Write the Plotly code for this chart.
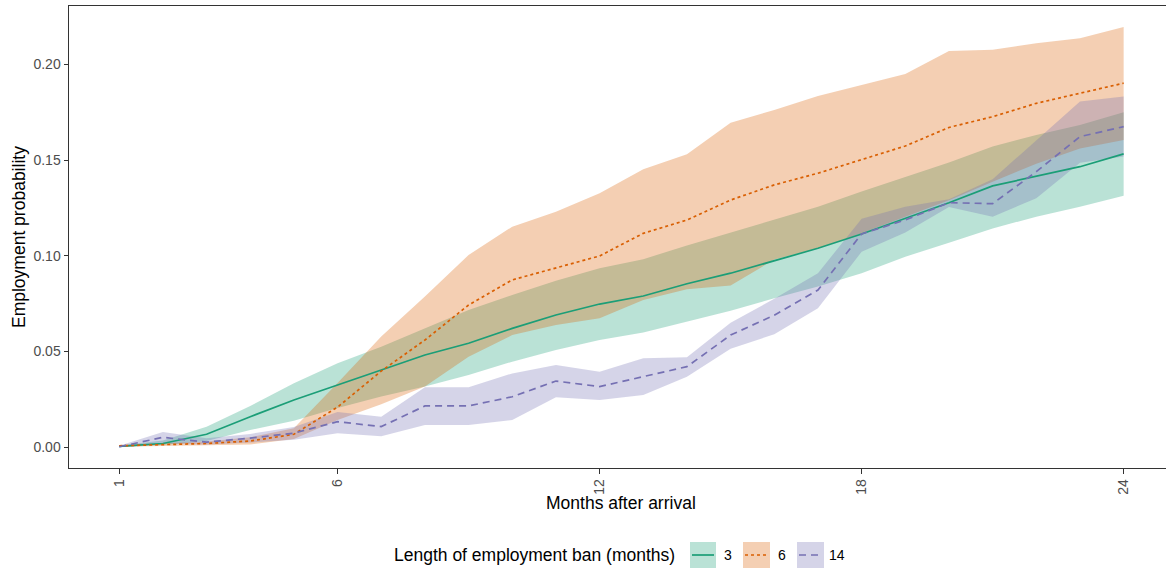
import plotly.graph_objects as go

months = list(range(1, 25))

ban3_mean = [0.0005, 0.0020, 0.0068, 0.0160, 0.0247, 0.0325, 0.0402, 0.0482, 0.0543, 0.0621, 0.0691, 0.0748,
             0.0790, 0.0854, 0.0909, 0.0973, 0.1039, 0.1114, 0.1196, 0.1277, 0.1365, 0.1415, 0.1465, 0.1532]
ban3_lo = [0.0000, 0.0012, 0.0033, 0.0090, 0.0139, 0.0205, 0.0265, 0.0317, 0.0378, 0.0447, 0.0508, 0.0560,
           0.0599, 0.0656, 0.0713, 0.0778, 0.0839, 0.0909, 0.0995, 0.1068, 0.1143, 0.1204, 0.1256, 0.1314]
ban3_hi = [0.0010, 0.0035, 0.0108, 0.0216, 0.0334, 0.0439, 0.0525, 0.0621, 0.0717, 0.0795, 0.0870, 0.0935,
           0.0982, 0.1054, 0.1121, 0.1187, 0.1256, 0.1335, 0.1413, 0.1487, 0.1570, 0.1631, 0.1683, 0.1749]

ban6_mean = [0.0008, 0.0013, 0.0020, 0.0033, 0.0068, 0.0210, 0.0398, 0.0560, 0.0743, 0.0874, 0.0935, 0.0999,
             0.1117, 0.1187, 0.1291, 0.1370, 0.1431, 0.1500, 0.1573, 0.1670, 0.1726, 0.1796, 0.1849, 0.1901]
ban6_lo = [0.0003, 0.0008, 0.0012, 0.0015, 0.0043, 0.0143, 0.0225, 0.0317, 0.0473, 0.0586, 0.0639, 0.0674,
           0.0769, 0.0825, 0.0845, 0.0980, 0.1039, 0.1117, 0.1204, 0.1290, 0.1387, 0.1480, 0.1560, 0.1605]
ban6_hi = [0.0012, 0.0020, 0.0030, 0.0052, 0.0100, 0.0336, 0.0578, 0.0787, 0.1004, 0.1152, 0.1230, 0.1326,
           0.1452, 0.1530, 0.1695, 0.1761, 0.1834, 0.1892, 0.1949, 0.2069, 0.2075, 0.2110, 0.2136, 0.2194]

ban14_mean = [0.0003, 0.0052, 0.0027, 0.0048, 0.0074, 0.0134, 0.0108, 0.0216, 0.0216, 0.0264, 0.0346, 0.0317,
              0.0369, 0.0421, 0.0586, 0.0690, 0.0821, 0.1114, 0.1187, 0.1277, 0.1272, 0.1439, 0.1622, 0.1674]
ban14_lo = [0.0000, 0.0020, 0.0015, 0.0025, 0.0040, 0.0073, 0.0058, 0.0116, 0.0116, 0.0143, 0.0261, 0.0247,
            0.0273, 0.0369, 0.0515, 0.0590, 0.0726, 0.1021, 0.1121, 0.1255, 0.1204, 0.1300, 0.1486, 0.1518]
ban14_hi = [0.0008, 0.0080, 0.0047, 0.0070, 0.0106, 0.0185, 0.0160, 0.0313, 0.0313, 0.0386, 0.0430, 0.0395,
            0.0465, 0.0470, 0.0650, 0.0775, 0.0909, 0.1193, 0.1256, 0.1295, 0.1400, 0.1600, 0.1805, 0.1831]

series_names = ["3", "6", "14"]
x_ticks = [1, 6, 12, 18, 24]
y_ticks = [0.00, 0.05, 0.10, 0.15, 0.20]
y_tick_labels = ["0.00", "0.05", "0.10", "0.15", "0.20"]

colors = ["#1B9E77", "#D95F02", "#7570B3"]
fills = ["rgba(27,158,119,0.3)", "rgba(217,95,2,0.3)", "rgba(117,112,179,0.3)"]
dashes = ["solid", "3px,3px", "7px,5px"]
means = [ban3_mean, ban6_mean, ban14_mean]
los = [ban3_lo, ban6_lo, ban14_lo]
his = [ban3_hi, ban6_hi, ban14_hi]

FONT = "Liberation Sans, Arial, sans-serif"

fig = go.Figure()
for i in range(3):
    fig.add_trace(go.Scatter(x=months, y=los[i], mode="lines", line=dict(width=0, color=fills[i]),
                             showlegend=False, hoverinfo="skip"))
    fig.add_trace(go.Scatter(x=months, y=his[i], mode="lines", line=dict(width=0, color=fills[i]),
                             fill="tonexty", fillcolor=fills[i], showlegend=False, hoverinfo="skip"))
for i in range(3):
    fig.add_trace(go.Scatter(x=months, y=means[i], mode="lines", name=series_names[i],
                             line=dict(color=colors[i], width=1.7, dash=dashes[i]), showlegend=False))

W, H = 1167, 570
ML, MR, MT, MB = 69, 1, 6, 102
PW = W - ML - MR
PH = H - MT - MB


def px(xp):
    return (xp - ML) / PW


def py(yp):
    return (H - MB - yp) / PH


fig.update_layout(
    width=W, height=H,
    margin=dict(l=ML, r=MR, t=MT, b=MB, pad=0),
    paper_bgcolor="white", plot_bgcolor="white",
    font=dict(family=FONT, color="#4D4D4D"),
    showlegend=False,
    xaxis=dict(range=[-0.15, 24.97], tickvals=x_ticks, ticktext=[str(t) for t in x_ticks],
               tickangle=-90, ticks="outside", ticklen=4.5, tickcolor="#333333", tickwidth=1,
               showline=True, linecolor="#333333", linewidth=1, mirror=True,
               showgrid=False, zeroline=False, tickfont=dict(size=14, color="#4D4D4D", family=FONT)),
    yaxis=dict(range=[-0.0108, 0.2304], tickvals=y_ticks, ticktext=y_tick_labels,
               ticks="outside", ticklen=4.5, tickcolor="#333333", tickwidth=1,
               showline=True, linecolor="#333333", linewidth=1, mirror=False,
               showgrid=False, zeroline=False, tickfont=dict(size=14, color="#4D4D4D", family=FONT)),
)

annotations = [
    dict(text="Months after arrival", xref="paper", yref="paper", x=px(621), y=py(503),
         xanchor="center", yanchor="middle", showarrow=False, font=dict(size=17.5, color="black", family=FONT)),
    dict(text="Employment probability", xref="paper", yref="paper", x=px(19), y=py(237),
         xanchor="center", yanchor="middle", textangle=-90, showarrow=False,
         font=dict(size=17.5, color="black", family=FONT)),
    dict(text="Length of employment ban (months)", xref="paper", yref="paper", x=px(392), y=py(555),
         xanchor="left", yanchor="middle", showarrow=False, font=dict(size=17.5, color="black", family=FONT)),
]

shapes = []
boxes = [(690, 716), (743, 770), (797, 824)]
label_x = [722, 776, 827]
for i in range(3):
    x0, x1 = boxes[i]
    shapes.append(dict(type="rect", xref="paper", yref="paper", x0=px(x0), x1=px(x1), y0=py(568), y1=py(542),
                       fillcolor=fills[i], line=dict(width=0), layer="above"))
    shapes.append(dict(type="line", xref="paper", yref="paper", x0=px(x0 + 2), x1=px(x1 - 2), y0=py(555), y1=py(555),
                       line=dict(color=colors[i], width=1.7, dash=dashes[i]), layer="above"))
    annotations.append(dict(text=series_names[i], xref="paper", yref="paper", x=px(label_x[i]), y=py(555),
                            xanchor="left", yanchor="middle", showarrow=False,
                            font=dict(size=14, color="black", family=FONT)))

fig.update_layout(annotations=annotations, shapes=shapes)
fig.write_html("out.html")
